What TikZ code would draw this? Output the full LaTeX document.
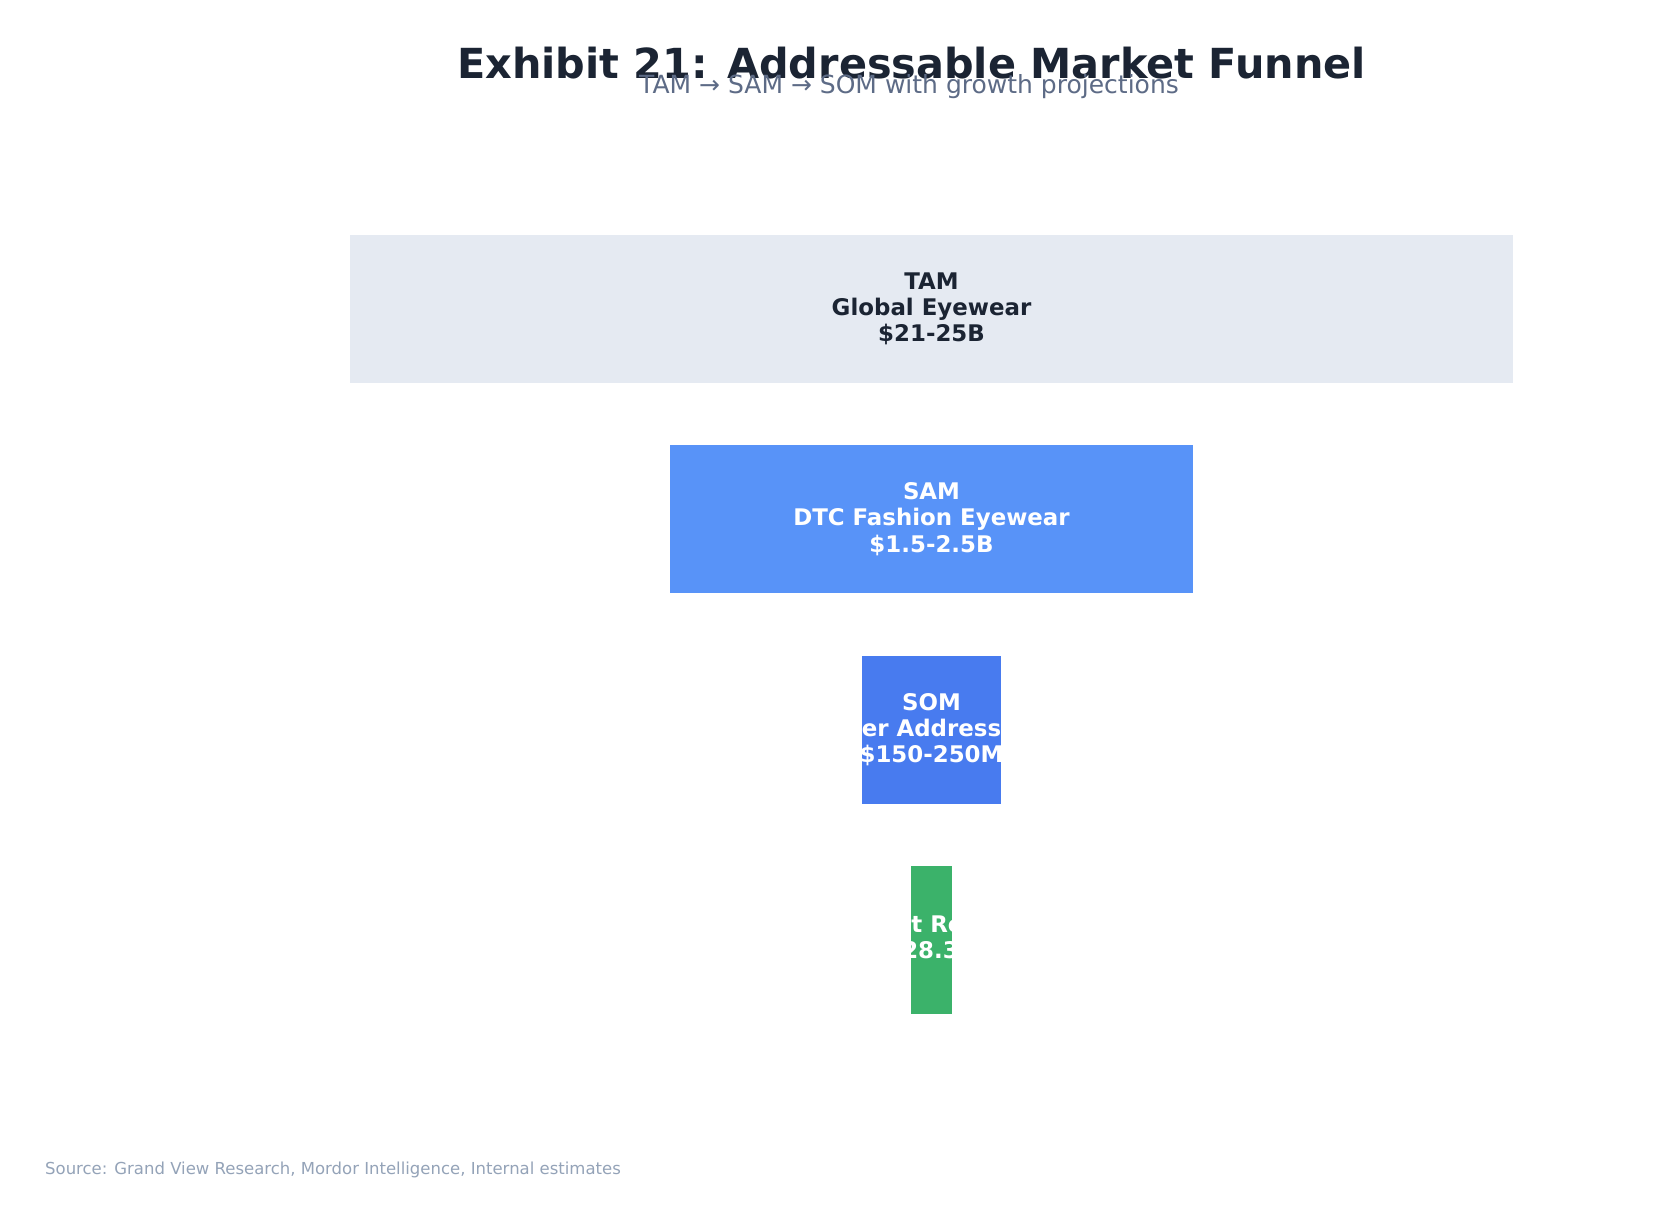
\documentclass[tikz,border=0pt]{standalone}
\usepackage{fontspec}
\setmainfont{DejaVu Sans}
\definecolor{inkdark}{HTML}{1B2433}
\definecolor{inksub}{HTML}{5D6B86}
\definecolor{inksrc}{HTML}{94A3B8}
\definecolor{tamfill}{HTML}{E5EAF2}
\definecolor{samfill}{HTML}{5893F8}
\definecolor{somfill}{HTML}{487BEF}
\definecolor{revfill}{HTML}{3BB26A}
\begin{document}
\begin{tikzpicture}[x=1pt,y=-1pt]
\tikzstyle{band}=[shape=rectangle,inner sep=0pt,minimum height=148pt,align=center,
  font=\fontsize{22.9}{26.2}\selectfont\bfseries]
\tikzstyle{bandtext}=[inner sep=0pt,align=center,text=white,
  font=\fontsize{22.9}{26.2}\selectfont\bfseries]
\useasboundingbox[fill=white] (0,0) rectangle (1674,1222);
% headings
\node[anchor=base,inner sep=0pt,text=inkdark,font=\fontsize{41.4}{48}\selectfont\bfseries] at (911.5,79) (title) {Exhibit 21: Addressable Market Funnel};
\node[anchor=base,inner sep=0pt,text=inksub,font=\fontsize{25}{30}\selectfont] at (909,94) (subtitle) {TAM → SAM → SOM with growth projections};
% funnel bands
\node[band,fill=tamfill,text=inkdark,minimum width=1163pt] at (931.5,309) (tam) {TAM\\Global Eyewear\\\$21-25B};
\node[band,fill=samfill,text=white,minimum width=523pt] at (931.5,519) (sam) {SAM\\DTC Fashion Eyewear\\\$1.5-2.5B};
\node[band,fill=somfill,minimum width=139pt] at (931.5,729.5) (som) {};
\node[band,fill=revfill,minimum width=41pt] at (931.5,939.5) (rev) {};
\begin{scope}
\clip (som.north west) rectangle (som.south east);
\node[bandtext] at (som) (somlabel) {SOM\\er Address\\\$150-250M};
\end{scope}
\begin{scope}
\clip (rev.north west) rectangle (rev.south east);
\node[bandtext,anchor=base] at (937.5,932) (revlabel) {t Ro};
\node[bandtext,anchor=base] at (930.5,958) (revvalue) {28.3};
\end{scope}
% source
\node[anchor=base west,inner sep=0pt,text=inksrc,font=\fontsize{16.5}{20}\selectfont] at (45,1174) (source) {Source: Grand View Research, Mordor Intelligence, Internal estimates};
\end{tikzpicture}
\end{document}
